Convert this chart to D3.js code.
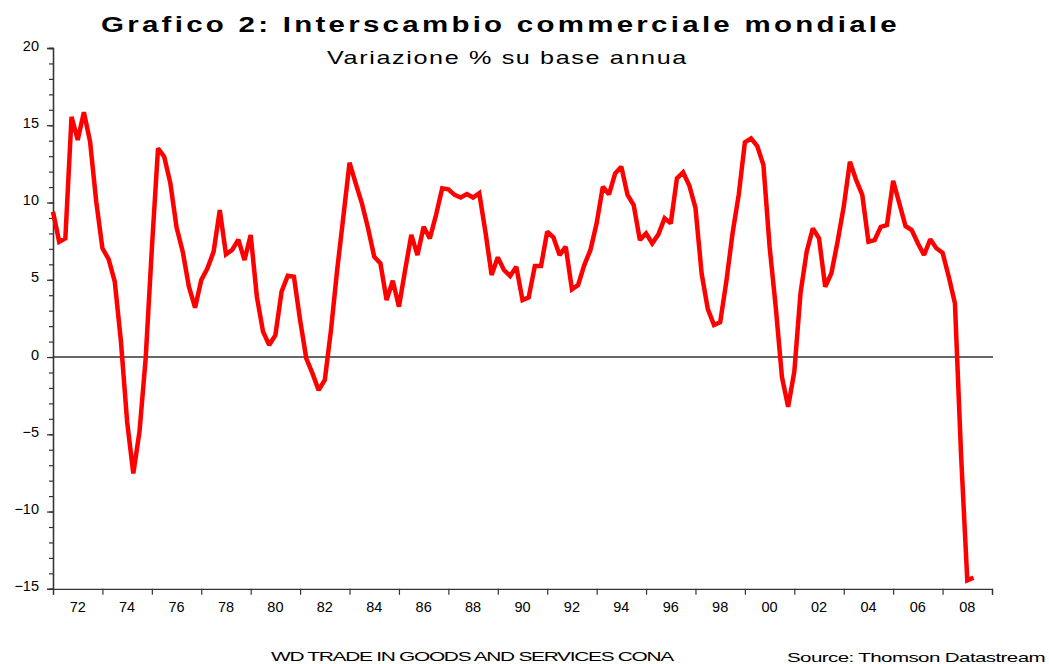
<!DOCTYPE html>
<html>
<head>
<meta charset="utf-8">
<script src="https://cdn.jsdelivr.net/npm/d3@7"></script>
<style>
    body { margin: 0; background: #fff; }
    #data-viz { width: 1049px; height: 664px; overflow: hidden; }
    text { font-family: "Liberation Sans", Arial, sans-serif; }
</style>
</head>
<body>
<div id="data-viz"></div>
<script>
// quarterly series, annual % change, first observation 1971 Q3
const startYear = 1971.5
const values = [
    9.4, 7.46, 7.68, 15.55, 14.05, 15.84, 13.94, 10.05, 7.04, 6.34,
    4.87, 1.0, -4.19, -7.53, -4.83, -0.1, 7.0, 13.5, 12.97, 11.24,
    8.4, 6.82, 4.55, 3.19, 4.98, 5.74, 6.82, 9.51, 6.65, 6.93,
    7.6, 6.28, 7.9, 3.9, 1.64, 0.78, 1.42, 4.23, 5.26, 5.2,
    2.39, -0.09, -1.06, -2.14, -1.49, 1.75, 5.63, 9.08, 12.58, 11.24,
    9.95, 8.33, 6.49, 6.06, 3.69, 4.94, 3.26, 5.63, 7.9, 6.6,
    8.43, 7.68, 9.19, 10.92, 10.85, 10.49, 10.32, 10.55, 10.32, 10.6,
    8.1, 5.31, 6.45, 5.63, 5.24, 5.84, 3.69, 3.86, 5.89, 5.89,
    8.11, 7.75, 6.6, 7.14, 4.38, 4.66, 5.95, 6.93, 8.65, 11.02,
    10.53, 11.89, 12.32, 10.49, 9.84, 7.57, 8.0, 7.36, 7.94, 8.98,
    8.65, 11.57, 11.95, 11.1, 9.65, 5.4, 3.1, 2.07, 2.25, 4.9,
    8.0, 10.5, 13.9, 14.15, 13.65, 12.43, 7.14, 3.2, -1.3, -3.22,
    -0.95, 4.12, 6.82, 8.33, 7.68, 4.55, 5.42, 7.46, 9.73, 12.64,
    11.46, 10.49, 7.46, 7.57, 8.43, 8.54, 11.41, 9.95, 8.48, 8.22,
    7.36, 6.6, 7.62, 7.04, 6.75, 5.2, 3.48, -6.4, -14.45, -14.28
]
const yearLabels = d3.range(1972, 2009, 2)
const yMajorTicks = [-15, -10, -5, 0, 5, 10, 15, 20]

const titleText = "Grafico 2: Interscambio commerciale mondiale"
const subtitleText = "Variazione % su base annua"
const seriesText = "WD TRADE IN GOODS AND SERVICES CONA"
const sourceText = "Source: Thomson Datastream"

function drawChart() {
    const dimensions = {
        width: 1049,
        height: 664,
        left: 53,
        right: 992,
        top: 48,
        bottom: 588.8,
    }

    const dataset = values.map((v, i) => ({ date: startYear + i / 4, value: v }))
    const xAccessor = d => d.date
    const yAccessor = d => d.value

    const svg = d3.select("#data-viz").append("svg")
        .attr("width", dimensions.width)
        .attr("height", dimensions.height)

    const xScale = d3.scaleLinear()
        .domain([startYear, startYear + 38])
        .range([dimensions.left, dimensions.right])

    const yScale = d3.scaleLinear()
        .domain([-15, 20])
        .range([dimensions.bottom, dimensions.top])

    // zero line
    svg.append("line")
        .attr("x1", xScale.range()[0])
        .attr("x2", xScale.range()[1] + 1)
        .attr("y1", yScale(0))
        .attr("y2", yScale(0))
        .attr("stroke", "#333")
        .attr("stroke-width", 1.5)

    // y axis: minor ticks every unit, major every 5
    const yMinor = svg.append("g")
        .attr("transform", `translate(${dimensions.left},0)`)
        .call(d3.axisLeft(yScale).tickValues(d3.range(-15, 21, 1)).tickSize(4).tickFormat(""))
    const yMajor = svg.append("g")
        .attr("transform", `translate(${dimensions.left},0)`)
        .call(d3.axisLeft(yScale).tickValues(yMajorTicks).tickSize(6).tickPadding(8))
    ;[yMinor, yMajor].forEach(g => {
        g.select(".domain").attr("stroke", "#333").attr("stroke-width", 1.3)
        g.selectAll(".tick line").attr("stroke", "#333").attr("stroke-width", 1.2)
    })
    yMajor.selectAll(".tick text")
        .attr("font-size", 14.5)
        .attr("font-family", "Liberation Sans, Arial, sans-serif")
        .attr("fill", "#000")
        .attr("dy", "0.15em")

    // x axis: ticks every two years, labels centred between ticks
    const xAxis = svg.append("g")
        .attr("transform", `translate(0,${dimensions.bottom})`)
        .call(d3.axisBottom(xScale).tickValues(d3.range(startYear, startYear + 38.1, 2)).tickSize(6).tickFormat(""))
    xAxis.select(".domain").attr("stroke", "#333").attr("stroke-width", 1.3)
    xAxis.selectAll(".tick line").attr("stroke", "#333").attr("stroke-width", 1.2)

    svg.append("g").selectAll("text")
        .data(yearLabels)
        .join("text")
            .attr("x", d => xScale(d + 0.5))
            .attr("y", dimensions.bottom + 23)
            .attr("text-anchor", "middle")
            .attr("font-size", 14.5)
            .text(d => String(d % 100).padStart(2, "0"))

    // series
    const lineGenerator = d3.line()
        .x(d => xScale(xAccessor(d)))
        .y(d => yScale(yAccessor(d)))

    svg.append("path")
        .datum(dataset)
        .attr("d", lineGenerator)
        .attr("fill", "none")
        .attr("stroke", "#ff0000")
        .attr("stroke-width", 4.5)
        .attr("stroke-linejoin", "miter")
        .attr("stroke-miterlimit", 2)

    // titles (glyphs stretched a little, as in the original export)
    svg.append("text")
        .attr("x", 101)
        .attr("y", 32)
        .attr("font-size", 22.5)
        .attr("font-weight", "bold")
        .attr("letter-spacing", 2.5)
        .attr("textLength", 799)
        .attr("lengthAdjust", "spacingAndGlyphs")
        .text(titleText)

    svg.append("text")
        .attr("x", 327)
        .attr("y", 64)
        .attr("font-size", 18.5)
        .attr("letter-spacing", 1.2)
        .attr("textLength", 361)
        .attr("lengthAdjust", "spacingAndGlyphs")
        .text(subtitleText)

    svg.append("text")
        .attr("x", 271)
        .attr("y", 661)
        .attr("font-size", 13)
        .attr("letter-spacing", -0.8)
        .attr("textLength", 402)
        .attr("lengthAdjust", "spacingAndGlyphs")
        .text(seriesText)

    svg.append("text")
        .attr("x", 787)
        .attr("y", 662)
        .attr("font-size", 13.5)
        .attr("letter-spacing", -0.4)
        .attr("textLength", 258)
        .attr("lengthAdjust", "spacingAndGlyphs")
        .text(sourceText)
}

drawChart()
</script>
</body>
</html>
